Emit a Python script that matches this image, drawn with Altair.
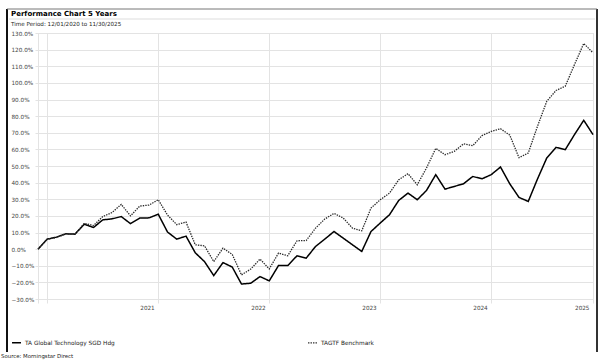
import altair as alt
import pandas as pd

# Month-end observation dates, 11/2020 .. 11/2025
months = pd.date_range("2020-11-30", "2025-11-30", freq="ME").strftime("%Y-%m").tolist()

series_names = ["TA Global Technology SGD Hdg", "TAGTF Benchmark"]

# Cumulative return (%) of the fund
fund = [
    0.0, 6.0, 7.2, 9.2, 9.0, 15.0, 13.0, 17.6, 18.2, 19.6,
    15.3, 18.7, 18.8, 21.0, 10.3, 6.0, 7.8, -2.2, -7.5, -15.9,
    -8.1, -10.8, -21.0, -20.5, -16.5, -19.1, -9.9, -9.9, -4.0, -5.4,
    1.6, 6.0, 10.6, 6.6, 2.6, -1.4, 10.6, 15.7, 20.7, 29.3,
    33.7, 29.7, 35.3, 44.8, 36.1, 37.7, 39.3, 43.7, 42.3, 44.8,
    49.4, 39.3, 31.1, 28.7, 42.2, 54.8, 61.2, 59.8, 68.9, 77.5,
    68.9,
]

# Cumulative return (%) of the benchmark
bench = [
    0.0, 6.0, 7.0, 9.2, 9.0, 15.5, 14.2, 19.6, 22.0, 26.9,
    20.0, 25.9, 26.5, 29.7, 20.5, 14.7, 16.3, 2.6, 2.0, -7.5,
    0.6, -3.2, -15.5, -12.0, -6.0, -11.9, -2.4, -4.0, 5.0, 5.2,
    12.6, 18.1, 21.5, 18.7, 12.6, 11.0, 24.7, 29.7, 33.7, 41.7,
    45.4, 38.7, 48.8, 60.6, 56.8, 58.8, 63.3, 62.2, 68.3, 70.8,
    72.4, 68.6, 55.0, 57.8, 73.9, 88.9, 95.4, 98.0, 111.0, 123.7,
    118.1,
]

# Year gridlines sit at each December; the year name is written just left of it
year_ticks = [0, 1, 13, 25, 37, 49, 60]
year_labels = ["", "", "2021", "2022", "2023", "2024", "2025"]
y_ticks = list(range(-30, 131, 10))

df = pd.DataFrame({
    "t": list(range(len(months))),
    "month": months,
    series_names[0]: fund,
    series_names[1]: bench,
}).melt(id_vars=["t", "month"], var_name="series", value_name="value")

FONT = "DejaVu Sans"
GRID = "#e3e3e3"

label_expr = " : ".join(
    f"datum.value == {t} ? '{lab}'" for t, lab in zip(year_ticks, year_labels)
) + " : ''"

legend = alt.Legend(
    title=None, orient="none", legendX=-27, legendY=304,
    direction="horizontal", symbolType="stroke", symbolSize=80,
    symbolStrokeWidth=1.8, labelFont=FONT, labelFontSize=5.8,
    labelColor="#222", labelOffset=3, columnPadding=190,
)

lines = alt.Chart(df).mark_line(interpolate="linear").encode(
    x=alt.X(
        "t:Q",
        scale=alt.Scale(domain=[0, 60], nice=False, zero=False),
        axis=alt.Axis(
            values=year_ticks, title=None, grid=True, gridColor=GRID,
            domain=False, ticks=True, tickSize=4, tickColor=GRID,
            labelExpr=label_expr, labelAlign="right", labelOffset=-4,
            labelBaseline="top", labelPadding=1, labelFont=FONT,
            labelFontSize=5.7, labelColor="#444", labelOverlap=False,
        ),
    ),
    y=alt.Y(
        "value:Q",
        scale=alt.Scale(domain=[-30, 130], nice=False, zero=False),
        axis=alt.Axis(
            values=y_ticks, title=None, grid=True, gridColor=GRID,
            domain=False, ticks=True, tickSize=3, tickColor=GRID,
            labelExpr="format(datum.value, '.1f') + '%'",
            labelAlign="left", labelPadding=24, labelBaseline="middle",
            labelFont=FONT, labelFontSize=5.7, labelColor="#444",
            labelOverlap=False,
        ),
    ),
    color=alt.Color(
        "series:N",
        scale=alt.Scale(domain=series_names, range=["#000000", "#2a2a2a"]),
        legend=legend,
    ),
    strokeDash=alt.StrokeDash(
        "series:N",
        scale=alt.Scale(domain=series_names, range=[[1, 0], [1.4, 1.1]]),
        legend=legend,
    ),
    strokeWidth=alt.StrokeWidth(
        "series:N",
        scale=alt.Scale(domain=series_names, range=[1.5, 1.3]),
        legend=None,
    ),
    detail="series:N",
)

one = pd.DataFrame({"k": [0]})

# Panel frame
frame_left = alt.Chart(one).mark_rule(color="#111", strokeWidth=2).encode(
    x=alt.value(-31), y=alt.value(-24), y2=alt.value(319))
frame_right = alt.Chart(one).mark_rule(color="#333", strokeWidth=2).encode(
    x=alt.value(559), y=alt.value(-24), y2=alt.value(319))
frame_top = alt.Chart(one).mark_rule(color="#777", strokeWidth=1).encode(
    x=alt.value(-31), x2=alt.value(559), y=alt.value(-24))
title_sep = alt.Chart(one).mark_rule(color="#dddddd", strokeWidth=1).encode(
    x=alt.value(-29), x2=alt.value(557), y=alt.value(-14))

title = alt.Chart(one).mark_text(
    text="Performance Chart 5 Years", font=FONT, fontSize=7, fontWeight="bold",
    align="left", baseline="alphabetic", color="#000",
).encode(x=alt.value(-27), y=alt.value(-17.5))

subtitle = alt.Chart(one).mark_text(
    text="Time Period: 12/01/2020 to 11/30/2025", font=FONT, fontSize=5.6,
    align="left", baseline="alphabetic", color="#222",
).encode(x=alt.value(-27), y=alt.value(-7))

source = alt.Chart(one).mark_text(
    text="Source: Morningstar Direct", font=FONT, fontSize=5.4,
    align="left", baseline="alphabetic", color="#222",
).encode(x=alt.value(-37), y=alt.value(325))

chart = alt.layer(
    frame_left, frame_right, frame_top, title_sep, title, subtitle,
    lines, source,
).properties(
    width=555, height=266,
    autosize=alt.AutoSizeParams(type="none"),
    padding={"left": 38, "top": 33, "right": 6, "bottom": 64},
).configure_view(stroke=None).configure(background="white")

chart.save("out.html", embed_options={"renderer": "svg", "actions": False})
